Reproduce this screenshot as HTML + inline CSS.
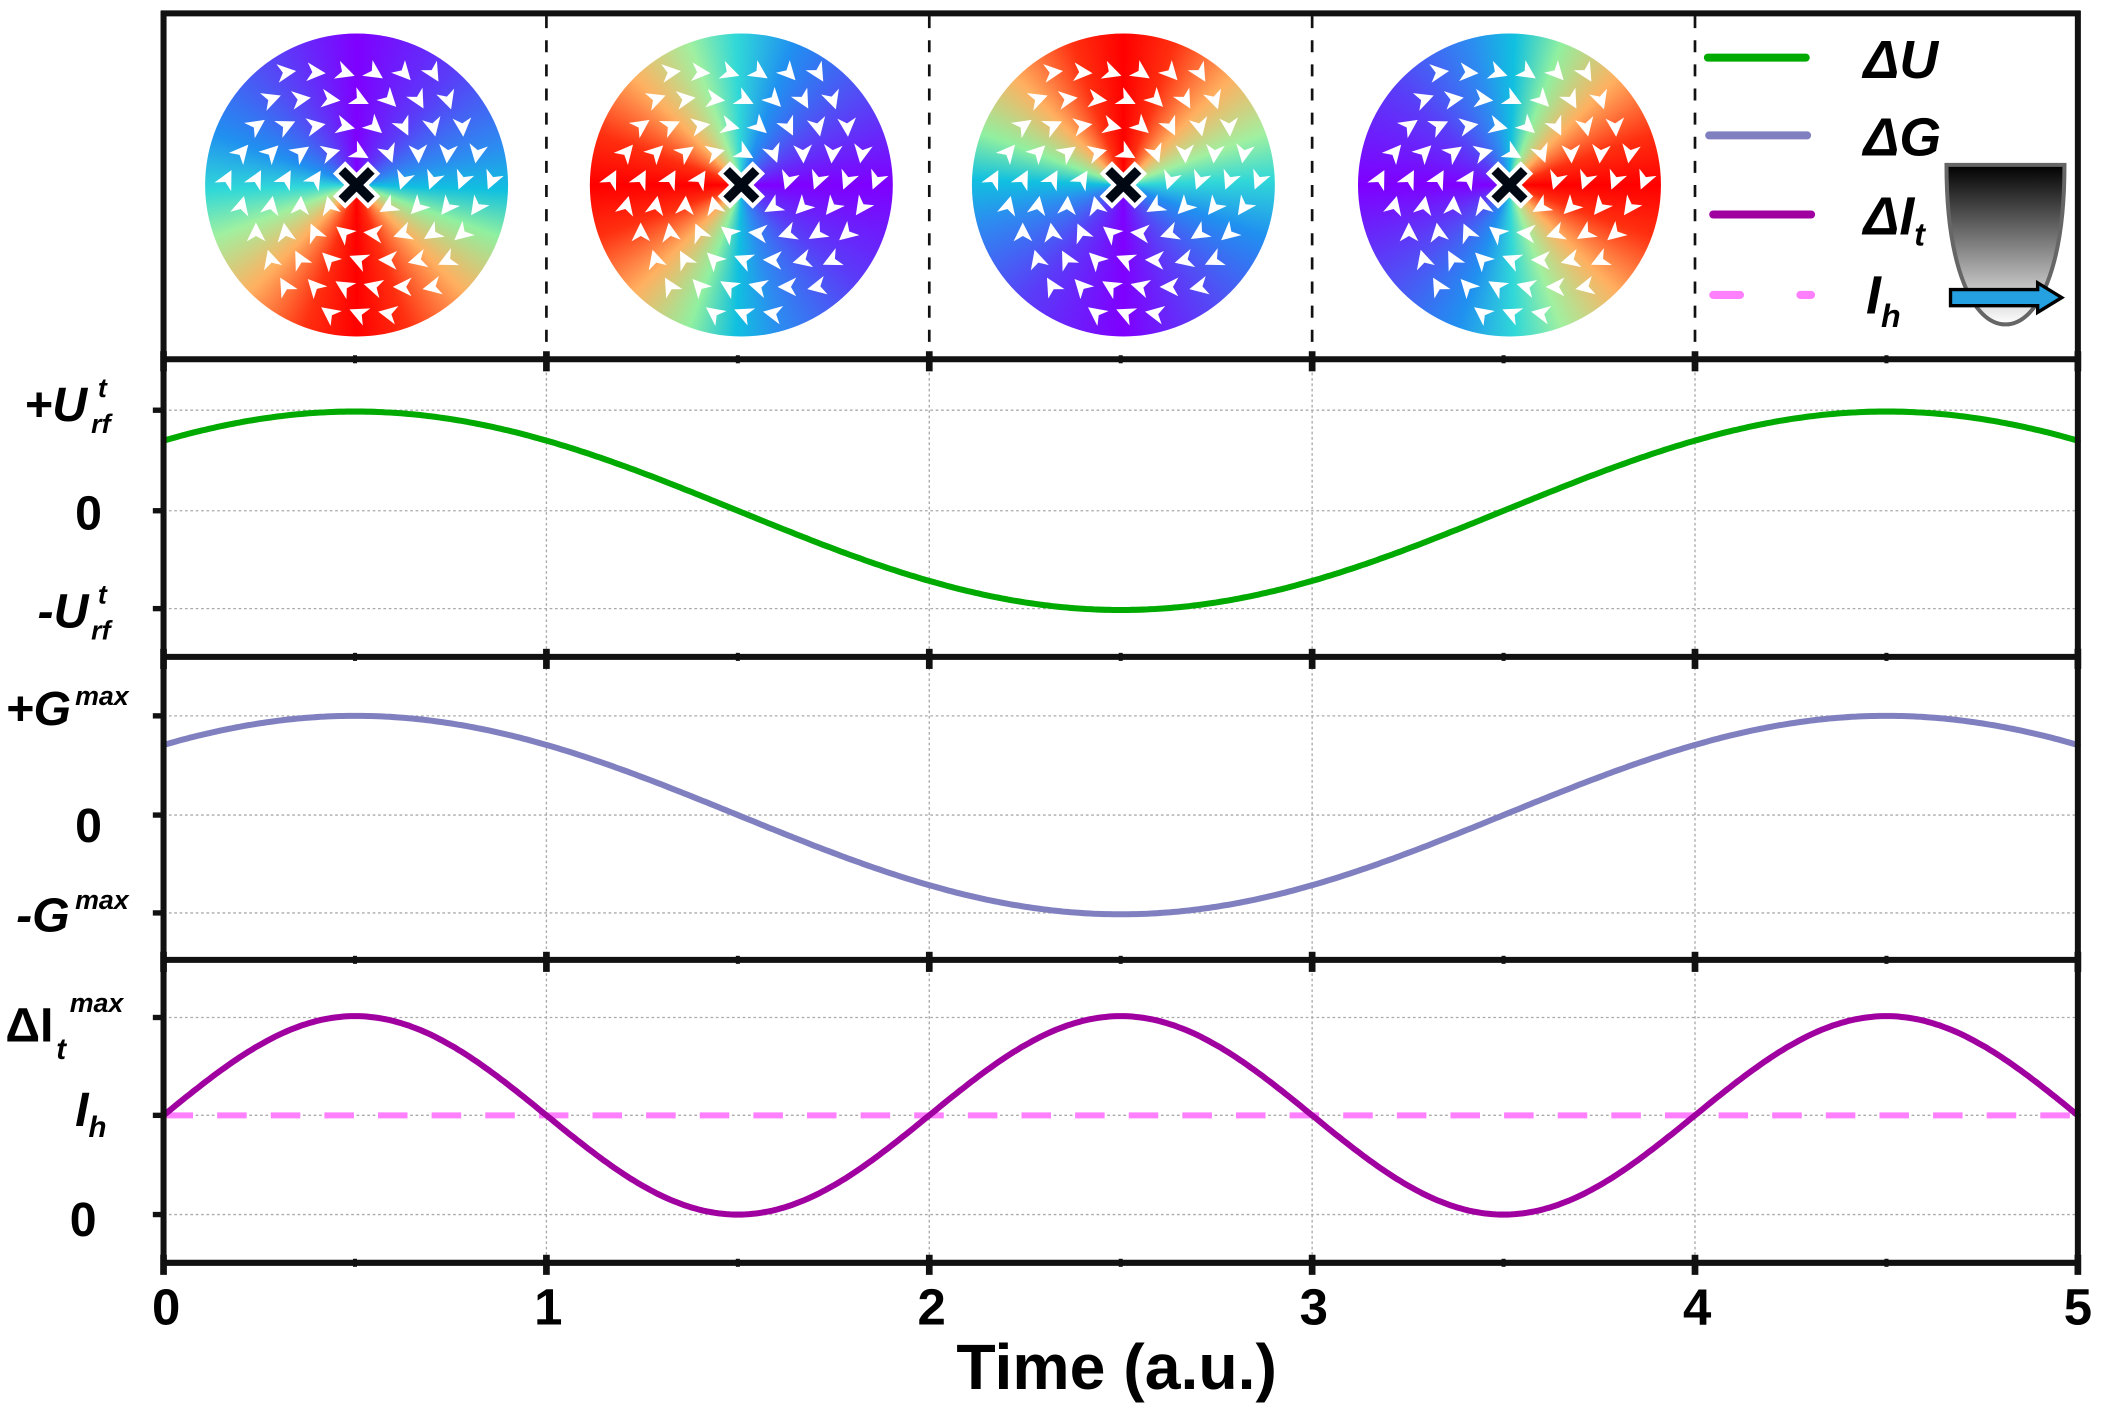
<!DOCTYPE html>
<html><head><meta charset="utf-8"><style>
html,body{margin:0;padding:0;background:#fff;overflow:hidden}
#wrap{position:absolute;left:0;top:0;width:1568px;height:1058px;transform:scale(1.34056);transform-origin:0 0}
.disk{position:absolute;width:226px;height:226px;border-radius:50%}
svg{position:absolute;left:0;top:0}
text{font-family:"Liberation Sans",Arial,sans-serif;font-weight:bold;fill:#000}
</style></head><body><div id="wrap">
<div class="disk" style="left:153px;top:25px;background:conic-gradient(from 0deg,#7f00ff 0deg,#5a3cf8 40deg,#2c8cf0 75deg,#10c0e0 92deg,#90f0a0 110deg,#ffb060 135deg,#ff3010 160deg,#ff0000 180deg,#ff3010 200deg,#ffb060 225deg,#a0f0a0 250deg,#30d8d8 268deg,#2090f0 290deg,#5050f5 320deg,#7f00ff 360deg)"></div>
<div class="disk" style="left:440px;top:25px;background:conic-gradient(from 90deg,#7f00ff 0deg,#5a3cf8 40deg,#2c8cf0 75deg,#10c0e0 92deg,#90f0a0 110deg,#ffb060 135deg,#ff3010 160deg,#ff0000 180deg,#ff3010 200deg,#ffb060 225deg,#a0f0a0 250deg,#30d8d8 268deg,#2090f0 290deg,#5050f5 320deg,#7f00ff 360deg)"></div>
<div class="disk" style="left:725px;top:25px;background:conic-gradient(from 180deg,#7f00ff 0deg,#5a3cf8 40deg,#2c8cf0 75deg,#10c0e0 92deg,#90f0a0 110deg,#ffb060 135deg,#ff3010 160deg,#ff0000 180deg,#ff3010 200deg,#ffb060 225deg,#a0f0a0 250deg,#30d8d8 268deg,#2090f0 290deg,#5050f5 320deg,#7f00ff 360deg)"></div>
<div class="disk" style="left:1013px;top:25px;background:conic-gradient(from 270deg,#7f00ff 0deg,#5a3cf8 40deg,#2c8cf0 75deg,#10c0e0 92deg,#90f0a0 110deg,#ffb060 135deg,#ff3010 160deg,#ff0000 180deg,#ff3010 200deg,#ffb060 225deg,#a0f0a0 250deg,#30d8d8 268deg,#2090f0 290deg,#5050f5 320deg,#7f00ff 360deg)"></div>
<svg id="s" width="1568" height="1058" viewBox="0 0 1568 1058">
<defs>
<linearGradient id="tip" x1="0" y1="0" x2="0" y2="1"><stop offset="0" stop-color="#000"/><stop offset="1" stop-color="#fff"/></linearGradient>
</defs>
<g id="arrows" fill="#fff"></g>
<g id="grid"></g>
<g id="curves" fill="none" stroke-width="4.5" stroke-linecap="round"></g>
<path d="M1452,123 L1540,123 C1540,200 1520,242 1496,242 C1472,242 1452,200 1452,123 Z" fill="url(#tip)" stroke="#666" stroke-width="3"/>
<path d="M1455,216 L1520,216 L1520,211 L1538,222 L1520,233 L1520,228 L1455,228 Z" fill="#25a0e0" stroke="#000" stroke-width="2.5"/>
<g stroke-width="6" stroke-linecap="round">
<line x1="1274" y1="43" x2="1347" y2="43" stroke="#00aa00"/>
<line x1="1275" y1="101" x2="1348" y2="101" stroke="#8080c0"/>
<line x1="1278" y1="160" x2="1351" y2="160" stroke="#a000a0"/>
<line x1="1278" y1="220" x2="1351" y2="220" stroke="#ff80ff" stroke-dasharray="20,45"/>
</g>
<g font-style="italic" font-size="40">
<text x="1390" y="58">ΔU</text>
<text x="1390" y="116">ΔG</text>
<text x="1390" y="175">ΔI<tspan font-size="24" dy="8">t</tspan></text>
<text x="1392" y="234">I<tspan font-size="24" dy="10">h</tspan></text>
</g>
<g font-style="italic" font-size="36">
<text x="18" y="314">+U</text><text x="73" y="296" font-size="20">t</text><text x="68" y="323" font-size="20">rf</text>
<text x="56" y="395" font-style="normal">0</text>
<text x="28" y="468">-U</text><text x="73" y="450" font-size="20">t</text><text x="68" y="477" font-size="20">rf</text>
<text x="4" y="541">+G</text><text x="56" y="526" font-size="20">max</text>
<text x="56" y="628" font-style="normal">0</text>
<text x="12" y="695">-G</text><text x="56" y="678" font-size="20">max</text>
<text x="4" y="777" font-style="normal">ΔI</text><text x="42" y="790" font-size="22">t</text><text x="52" y="755" font-size="20">max</text>
<text x="56" y="840">I</text><text x="66" y="848" font-size="22">h</text>
<text x="52" y="922" font-style="normal">0</text>
</g>
<g font-size="38" text-anchor="middle">
<text x="124" y="988">0</text><text x="409" y="988">1</text><text x="695" y="988">2</text><text x="980" y="988">3</text><text x="1266" y="988">4</text><text x="1550" y="988">5</text>
<text x="833" y="1036" font-size="48">Time (a.u.)</text>
</g>
<g id="frame" fill="none" stroke="#111" stroke-width="4.5"></g>
<g id="xs"></g>
</svg>
</div>
<script>
var NS="http://www.w3.org/2000/svg";
function el(p,t,a){var e=document.createElementNS(NS,t);for(var k in a)e.setAttribute(k,a[k]);document.getElementById(p).appendChild(e);return e;}
var X0=122,X1=1550,U=(X1-X0)/5;
function xt(t){return X0+U*t;}
var cs=[[266,138],[553,138],[838,138],[1126,138]];
cs.forEach(function(c){
 for(var y=-104;y<=104;y+=20)for(var x=-108;x<=108;x+=22){
  var xx=x+((Math.round((y+104)/20))%2?11:0);
  if(xx*xx+y*y>102*102||xx*xx+y*y<18*18)continue;
  var a=Math.atan2(y,xx)*180/Math.PI+90+25;
  el("arrows","path",{d:"M8,0 L-6,-7 L-2,0 L-6,7 Z",transform:"translate("+(c[0]+xx)+","+(c[1]+y)+") rotate("+a+")"});
 }
 var g=el("xs","g",{transform:"translate("+c[0]+","+c[1]+") rotate(45)"});
 var w=document.createElementNS(NS,"path");w.setAttribute("d","M-5,-17 H5 V-5 H17 V5 H5 V17 H-5 V5 H-17 V-5 H-5 Z");w.setAttribute("fill","#000814");w.setAttribute("stroke","#fff");w.setAttribute("stroke-width","3");g.appendChild(w);
});
for(var i=1;i<5;i++){
 el("grid","line",{x1:xt(i),y1:12,x2:xt(i),y2:268,stroke:"#111","stroke-width":2,"stroke-dasharray":"9,9"});
 el("grid","line",{x1:xt(i),y1:270,x2:xt(i),y2:942,stroke:"#aaa","stroke-width":1,"stroke-dasharray":"2,2"});
}
[306,381,454,534,608,681,759,832,906].forEach(function(y){el("grid","line",{x1:X0,y1:y,x2:X1,y2:y,stroke:"#aaa","stroke-width":1,"stroke-dasharray":"2,2"});});
function poly(f,col){var p="";for(var k=0;k<=500;k++){var t=5*k/500;p+=(k?" L":"M")+xt(t).toFixed(1)+","+f(t).toFixed(1);}el("curves","path",{d:p,stroke:col});}
poly(function(t){return 381-74*Math.cos(Math.PI*(t-0.5)/2);},"#00aa00");
poly(function(t){return 608-74*Math.cos(Math.PI*(t-0.5)/2);},"#8080c0");
el("curves","line",{x1:X0,y1:832,x2:X1,y2:832,stroke:"#ff80ff","stroke-dasharray":"22,18","stroke-linecap":"butt"});
poly(function(t){return 832-74*Math.sin(Math.PI*t);},"#a000a0");
[10,268,490,716,942].forEach(function(y){el("frame","line",{x1:X0-2,y1:y,x2:X1+2,y2:y});});
el("frame","line",{x1:X0,y1:8,x2:X0,y2:944});el("frame","line",{x1:X1,y1:8,x2:X1,y2:944});
[268,490,716,942].forEach(function(y){for(var i=0;i<=10;i++){var big=i%2==0;el("frame","line",{x1:xt(i/2),y1:y-(big?6:3),x2:xt(i/2),y2:y+(big?9:3),"stroke-width":big?5:3});}});
[306,381,454,534,608,681,759,832,906].forEach(function(y){el("frame","line",{x1:X0-8,y1:y,x2:X0,y2:y,"stroke-width":4});});
</script>
</body></html>
